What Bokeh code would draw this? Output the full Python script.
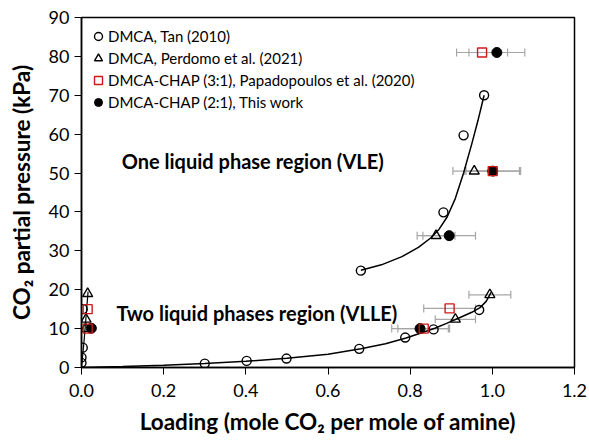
from bokeh.plotting import figure
from bokeh.models import (ColumnDataSource, Whisker, TeeHead, Legend, LegendItem,
                          Label, FixedTicker, PrintfTickFormatter)
from bokeh.embed import file_html
from bokeh.resources import INLINE

# ---------------- data ----------------
x_ticks = [0.0, 0.2, 0.4, 0.6, 0.8, 1.0, 1.2]
y_ticks = [0, 10, 20, 30, 40, 50, 60, 70, 80, 90]

tan_x = [0.0, 0.0, 0.003, 0.003, 0.300, 0.402, 0.499, 0.676, 0.788, 0.857, 0.968, 0.680, 0.881, 0.930, 0.980]
tan_y = [1.2, 2.6, 5.1, 15.0, 1.0, 1.7, 2.3, 4.8, 7.7, 9.8, 14.8, 24.9, 39.9, 59.7, 70.0]

perdomo_x = [0.010, 0.011, 0.015, 0.863, 0.956, 0.910, 0.994]
perdomo_y = [10.0, 12.4, 19.0, 33.9, 50.5, 12.4, 18.7]
perdomo_err = [0.0, 0.0, 0.0, 0.046, 0.052, 0.049, 0.051]

papa_x = [0.015, 0.015, 0.833, 0.896, 1.001, 0.975]
papa_y = [10.0, 15.0, 10.0, 15.2, 50.5, 81.0]
papa_err = [0.0, 0.0, 0.063, 0.063, 0.065, 0.062]

work_x = [0.024, 0.824, 0.895, 1.001, 1.011]
work_y = [10.1, 10.0, 33.9, 50.5, 81.0]
work_err = [0.0, 0.069, 0.064, 0.068, 0.068]

# model curves
vlle_x = [0.0, 0.1, 0.2, 0.3, 0.4, 0.5, 0.6, 0.68, 0.74, 0.79, 0.83, 0.86, 0.89, 0.92, 0.95, 0.97, 0.985, 0.997]
vlle_y = [0.0, 0.25, 0.6, 1.0, 1.6, 2.4, 3.4, 4.8, 6.1, 7.6, 9.0, 10.1, 11.4, 12.8, 14.2, 15.4, 17.0, 19.3]
low_x = [0.0, 0.006, 0.011, 0.016]
low_y = [0.0, 6.5, 13.0, 19.5]
vle_x = [0.68, 0.73, 0.78, 0.82, 0.85, 0.87, 0.89, 0.91, 0.93, 0.95, 0.965, 0.98]
vle_y = [25.0, 26.4, 28.5, 30.9, 33.3, 35.5, 38.7, 43.5, 50.0, 57.5, 63.5, 70.0]

labels = ["DMCA, Tan (2010)",
          "DMCA, Perdomo et al. (2021)",
          "DMCA-CHAP (3:1), Papadopoulos et al. (2020)",
          "DMCA-CHAP (2:1), This work"]

FONT = "Lato"
RED = "#D01818"
GREY = "#A6A6A6"

p = figure(width=589, height=440, x_range=(0, 1.2), y_range=(0, 90),
           output_backend="svg", toolbar_location=None,
           min_border_left=81, min_border_right=15, min_border_top=17, min_border_bottom=73)
p.xgrid.visible = False
p.ygrid.visible = False
p.outline_line_color = "black"
p.outline_line_width = 1.5
p.background_fill_color = "white"
p.border_fill_color = "white"

for ax in (p.xaxis[0], p.yaxis[0]):
    ax.axis_line_width = 1.5
    ax.axis_line_color = "black"
    ax.major_tick_line_color = "black"
    ax.major_tick_line_width = 1
    ax.major_tick_in = 0
    ax.major_tick_out = 7
    ax.minor_tick_line_color = None
    ax.major_label_text_font = FONT
    ax.major_label_text_font_size = "18px"
    ax.major_label_text_color = "black"
    ax.axis_label_text_font = FONT
    ax.axis_label_text_font_style = "bold"
    ax.axis_label_text_font_size = "22.5px"
    ax.axis_label_text_color = "black"

p.xaxis.ticker = FixedTicker(ticks=x_ticks)
p.xaxis.formatter = PrintfTickFormatter(format="%.1f")
p.yaxis.ticker = FixedTicker(ticks=y_ticks)
p.xaxis.axis_label = "Loading (mole CO\u2082 per mole of amine)"
p.yaxis.axis_label = "CO\u2082 partial pressure (kPa)"
p.xaxis.major_label_standoff = 9
p.yaxis.major_label_standoff = 5
p.xaxis.axis_label_standoff = 8
p.yaxis.axis_label_standoff = 11


def add_whiskers(xs, ys, errs):
    xx = [x for x, e in zip(xs, errs) if e > 0]
    yy = [y for y, e in zip(ys, errs) if e > 0]
    ee = [e for e in errs if e > 0]
    src = ColumnDataSource(dict(y=yy, lo=[a - b for a, b in zip(xx, ee)], hi=[a + b for a, b in zip(xx, ee)]))
    w = Whisker(source=src, base="y", lower="lo", upper="hi", dimension="width",
                line_color=GREY, line_width=1.2, level="underlay",
                upper_head=TeeHead(size=8, line_color=GREY, line_width=1.2),
                lower_head=TeeHead(size=8, line_color=GREY, line_width=1.2))
    p.add_layout(w)


add_whiskers(perdomo_x, perdomo_y, perdomo_err)
add_whiskers(papa_x, papa_y, papa_err)
add_whiskers(work_x, work_y, work_err)

p.line(vlle_x, vlle_y, line_color="black", line_width=1.5)
p.line(low_x, low_y, line_color="black", line_width=1.2)
p.line(vle_x, vle_y, line_color="black", line_width=1.5)

r_tan = p.scatter(tan_x, tan_y, marker="circle", size=9, fill_color=None, line_color="black", line_width=1.4)
r_per = p.scatter(perdomo_x, perdomo_y, marker="triangle", size=10, fill_color=None, line_color="black", line_width=1.4)
r_work = p.scatter(work_x, work_y, marker="circle", size=10, fill_color="black", line_color="black")
r_papa = p.scatter(papa_x, papa_y, marker="square", size=9, fill_color=None, line_color=RED, line_width=1.4)

legend = Legend(items=[LegendItem(label=labels[0], renderers=[r_tan]),
                       LegendItem(label=labels[1], renderers=[r_per]),
                       LegendItem(label=labels[2], renderers=[r_papa]),
                       LegendItem(label=labels[3], renderers=[r_work])],
                location=(7, 255), margin=0, padding=0, spacing=2,
                glyph_width=20, glyph_height=20, label_height=20, label_standoff=0,
                label_text_font=FONT, label_text_font_size="15px", label_text_color="black",
                border_line_color=None, background_fill_alpha=0)
p.add_layout(legend)

p.add_layout(Label(x=0.098, y=53.2, text="One liquid phase region (VLE)", text_baseline="middle",
                   text_font=FONT, text_font_style="bold", text_font_size="20px", text_color="black"))
p.add_layout(Label(x=0.085, y=14.0, text="Two liquid phases region (VLLE)", text_baseline="middle",
                   text_font=FONT, text_font_style="bold", text_font_size="20px", text_color="black"))

open("out.html", "w").write(file_html(p, INLINE))
